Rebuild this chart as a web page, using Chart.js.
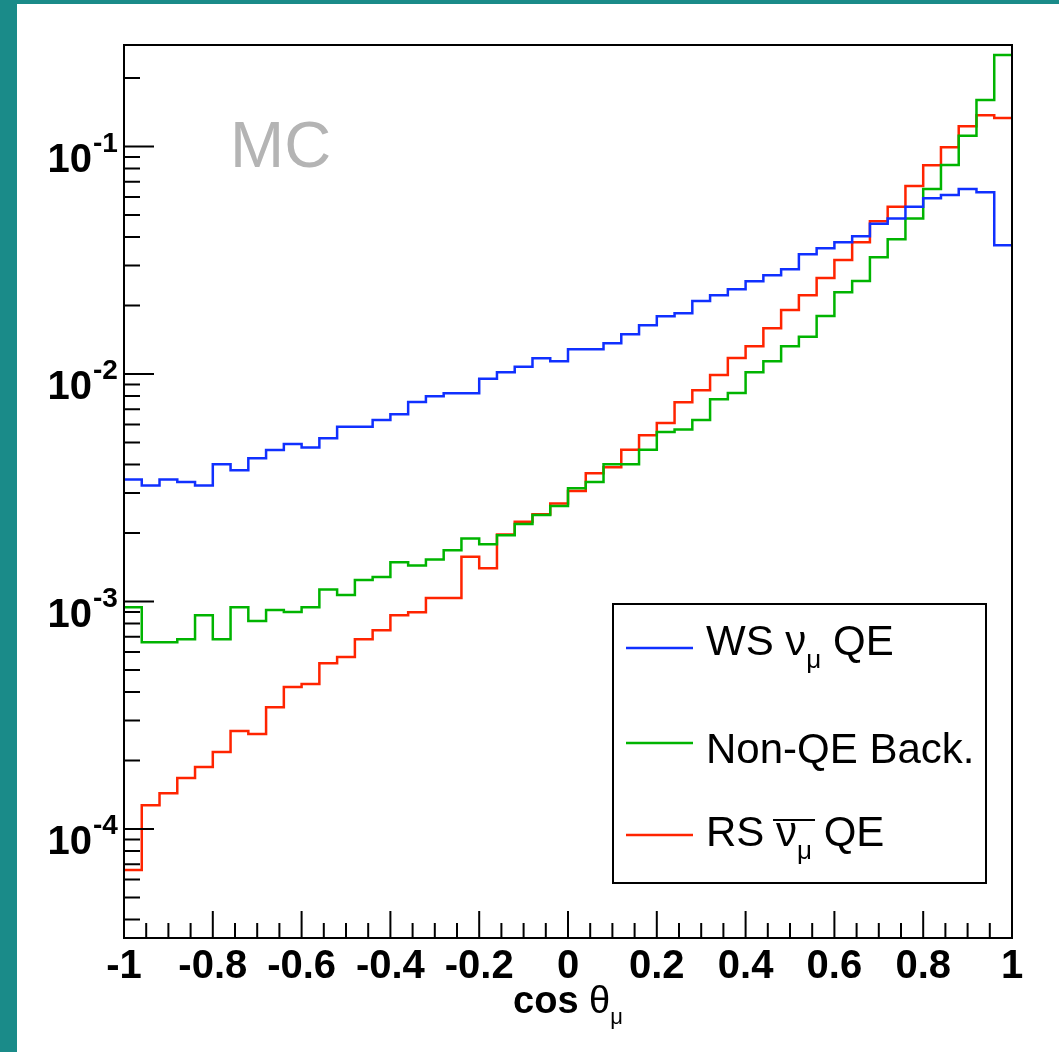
<!DOCTYPE html>
<html>
<head>
<meta charset="utf-8">
<title>cos theta_mu - MC</title>
<script src="https://cdn.jsdelivr.net/npm/chart.js@4.4.1/dist/chart.umd.min.js"></script>
<style>
  html, body { margin: 0; padding: 0; background: #fff; }
  #frame {
    position: relative; width: 1059px; height: 1052px; box-sizing: border-box;
    border-left: 17px solid #1a8b89; border-top: 4px solid #1a8b89;
  }
  #chart { position: absolute; left: -17px; top: -4px; }
</style>
</head>
<body>
<div id="frame"><canvas id="chart" width="1059" height="1052"></canvas></div>
<script>
// Histogram binning: 50 bins in cos(theta_mu) from -1 to 1
const binEdges = Array.from({ length: 51 }, (_, i) => -1 + i * 0.04);

// Bin contents (log scale)
const wsNuMuQE = [
  3.44e-3, 3.24e-3, 3.44e-3, 3.35e-3, 3.24e-3, 4.01e-3, 3.78e-3, 4.26e-3, 4.63e-3, 4.92e-3,
  4.76e-3, 5.22e-3, 5.87e-3, 5.87e-3, 6.28e-3, 6.65e-3, 7.53e-3, 7.98e-3, 8.23e-3, 8.23e-3,
  9.53e-3, 1.017e-2, 1.077e-2, 1.172e-2, 1.137e-2, 1.285e-2, 1.285e-2, 1.364e-2, 1.494e-2, 1.637e-2,
  1.793e-2, 1.848e-2, 2.094e-2, 2.218e-2, 2.357e-2, 2.556e-2, 2.718e-2, 2.888e-2, 3.36e-2, 3.57e-2,
  3.80e-2, 4.03e-2, 4.58e-2, 4.83e-2, 5.44e-2, 5.92e-2, 6.12e-2, 6.50e-2, 6.29e-2, 3.68e-2
];
const nonQEBack = [
  9.43e-4, 6.62e-4, 6.62e-4, 6.82e-4, 8.70e-4, 6.82e-4, 9.43e-4, 8.21e-4, 9.18e-4, 8.99e-4,
  9.43e-4, 1.131e-3, 1.068e-3, 1.243e-3, 1.282e-3, 1.487e-3, 1.442e-3, 1.532e-3, 1.679e-3, 1.895e-3,
  1.784e-3, 1.954e-3, 2.19e-3, 2.40e-3, 2.63e-3, 3.15e-3, 3.35e-3, 4.01e-3, 4.01e-3, 4.65e-3,
  5.56e-3, 5.71e-3, 6.28e-3, 7.74e-3, 8.25e-3, 1.017e-2, 1.137e-2, 1.325e-2, 1.459e-2, 1.799e-2,
  2.286e-2, 2.563e-2, 3.26e-2, 3.91e-2, 4.83e-2, 6.50e-2, 8.29e-2, 0.1115, 0.160, 0.2525
];
const rsNuMuBarQE = [
  6.60e-5, 1.272e-4, 1.435e-4, 1.675e-4, 1.873e-4, 2.18e-4, 2.70e-4, 2.62e-4, 3.43e-4, 4.21e-4,
  4.34e-4, 5.36e-4, 5.70e-4, 6.82e-4, 7.47e-4, 8.70e-4, 8.97e-4, 1.036e-3, 1.036e-3, 1.573e-3,
  1.399e-3, 1.97e-3, 2.24e-3, 2.42e-3, 2.70e-3, 3.06e-3, 3.66e-3, 3.89e-3, 4.65e-3, 5.38e-3,
  6.09e-3, 7.51e-3, 8.48e-3, 9.90e-3, 1.176e-2, 1.325e-2, 1.589e-2, 1.911e-2, 2.218e-2, 2.64e-2,
  3.17e-2, 3.80e-2, 4.69e-2, 5.44e-2, 6.71e-2, 8.27e-2, 9.92e-2, 0.1227, 0.1371, 0.1335
];

// Axis ticks
const xMajorTicks = [-1, -0.8, -0.6, -0.4, -0.2, 0, 0.2, 0.4, 0.6, 0.8, 1];
const xTickLabels = ['-1', '-0.8', '-0.6', '-0.4', '-0.2', '0', '0.2', '0.4', '0.6', '0.8', '1'];
const yDecades = [-4, -3, -2, -1];
const yRange = [3.32e-5, 0.2794];

const BLUE = '#1030ff';
const GREEN = '#00b400';
const RED = '#ff2400';
const FONT = '"Liberation Sans", Arial, Helvetica, sans-serif';

// histogram -> step points (left edge of each bin, plus closing point at the last edge)
function toSteps(values) {
    const pts = values.map((v, i) => ({ x: binEdges[i], y: v }));
    pts.push({ x: binEdges[binEdges.length - 1], y: values[values.length - 1] });
    return pts;
}

function histDataset(label, values, color, order) {
    return {
        label: label,
        data: toSteps(values),
        borderColor: color,
        borderWidth: 2.5,
        stepped: 'before',
        pointRadius: 0,
        fill: false,
        order: order
    };
}

// draws a string made of pieces (normal / subscript / overline) starting at x
function drawPieces(ctx, pieces, x, baseline) {
    let cx = x;
    pieces.forEach(p => {
        ctx.font = p.font;
        const w = ctx.measureText(p.text).width;
        const dy = p.sub ? p.sub : 0;
        ctx.fillText(p.text, cx, baseline + dy);
        if (p.overline) {
            ctx.beginPath();
            ctx.moveTo(cx - 3, baseline - 26);
            ctx.lineTo(cx + w + p.overline, baseline - 26);
            ctx.stroke();
        }
        cx += w;
    });
    return cx;
}

// ROOT-like frame, inside ticks, exponent labels, legend and titles
const rootStyle = {
    id: 'rootStyle',
    afterDraw(chart) {
        const { ctx, chartArea: a, scales: { x, y } } = chart;
        ctx.save();
        ctx.strokeStyle = '#000';
        ctx.fillStyle = '#000';
        ctx.lineWidth = 2;
        ctx.strokeRect(a.left, a.top, a.right - a.left, a.bottom - a.top);

        ctx.beginPath();
        for (let k = 0; k <= 40; k++) {
            const px = x.getPixelForValue(-1 + k * 0.05);
            const len = k % 4 === 0 ? 27 : 15;
            ctx.moveTo(px, a.bottom);
            ctx.lineTo(px, a.bottom - len);
        }
        for (let e = -5; e <= 0; e++) {
            for (let m = 1; m <= 9; m++) {
                const v = m * Math.pow(10, e);
                if (v < yRange[0] || v > yRange[1]) continue;
                const py = y.getPixelForValue(v);
                ctx.moveTo(a.left, py);
                ctx.lineTo(a.left + (m === 1 ? 30 : 16), py);
            }
        }
        ctx.stroke();

        // y labels 10^n
        ctx.textBaseline = 'alphabetic';
        yDecades.forEach(e => {
            const py = y.getPixelForValue(Math.pow(10, e));
            ctx.font = 'bold 40px ' + FONT;
            ctx.textAlign = 'right';
            ctx.fillText('10', 92, py + 25);
            ctx.font = 'bold 28px ' + FONT;
            ctx.textAlign = 'left';
            ctx.fillText(String(e), 93, py + 5);
        });

        // x title: cos theta_mu
        const tBold = 'bold 38px ' + FONT;
        const tReg = '38px ' + FONT;
        const tSub = '22px ' + FONT;
        const title = [
            { text: 'cos ', font: tBold },
            { text: '\u03b8', font: tReg },
            { text: '\u03bc', font: tSub, sub: 11 }
        ];
        let tw = 0;
        title.forEach(p => { ctx.font = p.font; tw += ctx.measureText(p.text).width; });
        drawPieces(ctx, title, (a.left + a.right) / 2 - tw / 2, 1013);

        // MC label
        ctx.font = '65px ' + FONT;
        ctx.fillStyle = '#b4b4b4';
        ctx.fillText('MC', 230, 167);

        // legend box
        ctx.fillStyle = '#fff';
        ctx.fillRect(613, 604, 373, 279);
        ctx.strokeStyle = '#000';
        ctx.strokeRect(613, 604, 373, 279);
        ctx.fillStyle = '#000';

        const lFont = '42px ' + FONT;
        const lSub = '26px ' + FONT;
        const entries = [
            { color: BLUE, lineY: 648, base: 655, pieces: [
                { text: 'WS ', font: lFont }, { text: '\u03bd', font: lFont },
                { text: '\u03bc', font: lSub, sub: 13 }, { text: ' QE', font: lFont }] },
            { color: GREEN, lineY: 743, base: 763, pieces: [
                { text: 'Non-QE Back.', font: lFont }] },
            { color: RED, lineY: 835, base: 846, pieces: [
                { text: 'RS ', font: lFont }, { text: '\u03bd', font: lFont, overline: 18 },
                { text: '\u03bc', font: lSub, sub: 13 }, { text: ' QE', font: lFont }] }
        ];
        entries.forEach(en => {
            ctx.strokeStyle = en.color;
            ctx.lineWidth = 2.5;
            ctx.beginPath();
            ctx.moveTo(626, en.lineY);
            ctx.lineTo(693, en.lineY);
            ctx.stroke();
            ctx.strokeStyle = '#000';
            ctx.lineWidth = 2;
            drawPieces(ctx, en.pieces, 706, en.base);
        });
        ctx.restore();
    }
};

new Chart(document.getElementById('chart'), {
    type: 'line',
    data: {
        datasets: [
            histDataset('WS nu_mu QE', wsNuMuQE, BLUE, 1),
            histDataset('Non-QE Back.', nonQEBack, GREEN, 2),
            histDataset('RS anti-nu_mu QE', rsNuMuBarQE, RED, 3)
        ]
    },
    options: {
        responsive: false,
        animation: false,
        devicePixelRatio: 1,
        layout: { padding: { left: 0, top: 45, right: 47, bottom: 0 } },
        plugins: { legend: { display: false }, tooltip: { enabled: false } },
        scales: {
            x: {
                type: 'linear',
                min: -1,
                max: 1,
                afterBuildTicks: s => { s.ticks = xMajorTicks.map(v => ({ value: v })); },
                afterFit: s => { s.height = 114; },
                grid: { display: false, drawTicks: false },
                border: { display: false },
                ticks: {
                    autoSkip: false,
                    maxRotation: 0,
                    padding: 5,
                    color: '#000',
                    font: { family: FONT, size: 40, weight: 'bold' },
                    callback: (v, i) => xTickLabels[i]
                }
            },
            y: {
                type: 'logarithmic',
                min: yRange[0],
                max: yRange[1],
                afterFit: s => { s.width = 124; },
                grid: { display: false, drawTicks: false },
                border: { display: false },
                ticks: { display: false }
            }
        }
    },
    plugins: [rootStyle]
});
</script>
</body>
</html>
